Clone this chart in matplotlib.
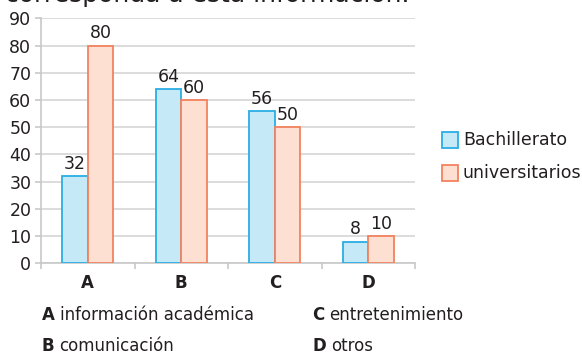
import matplotlib
matplotlib.use("Agg")
import matplotlib.pyplot as plt
import numpy as np
from matplotlib.patches import Rectangle

categories = ["A", "B", "C", "D"]
bachillerato = [32, 64, 56, 8]
universitarios = [80, 60, 50, 10]
series_names = ["Bachillerato", "universitarios"]
yticks = [0, 10, 20, 30, 40, 50, 60, 70, 80, 90]
notes = [("A", "información académica"), ("B", "comunicación"),
         ("C", "entretenimiento"), ("D", "otros")]

FONT = "DejaVu Sans"
blue_fill, blue_edge = "#c6e9f8", "#2aaee4"
orange_fill, orange_edge = "#fde0d1", "#f2825f"
grid_c = "#d6d6d6"
text_c = "#231f20"

fig = plt.figure(figsize=(5.82, 3.55), dpi=100)
ax = fig.add_axes([41/582, 1-263.3/355, (415-41)/582, (263.3-18.3)/355])

x = np.arange(len(categories))
w = 0.272
ax.bar(x - w/2, bachillerato, w, color=blue_fill, edgecolor=blue_edge, linewidth=1.3, zorder=3)
ax.bar(x + w/2, universitarios, w, color=orange_fill, edgecolor=orange_edge, linewidth=1.3, zorder=3)

for xi, v in zip(x - w/2, bachillerato):
    ax.text(xi, v + 1.2, str(v), ha="center", va="bottom", fontsize=12.5, family=FONT, color=text_c)
for xi, v in zip(x + w/2, universitarios):
    ax.text(xi, v + 1.2, str(v), ha="center", va="bottom", fontsize=12.5, family=FONT, color=text_c)

ax.set_xlim(-0.5, len(categories) - 0.5)
ax.set_ylim(0, 90)
ax.set_yticks(yticks)
ax.set_yticklabels([str(t) for t in yticks], fontsize=12.5, family=FONT, color=text_c)
ax.yaxis.grid(True, color=grid_c, linewidth=1.2, zorder=0)
ax.set_axisbelow(True)

ax.set_xticks(x)
ax.set_xticklabels(categories, fontsize=12, family=FONT, fontweight="bold", color=text_c)
ax.set_xticks(np.arange(-0.5, len(categories)), minor=True)
ax.tick_params(axis="x", which="major", length=0, pad=8)
ax.tick_params(axis="x", which="minor", length=4, color="#c8c8c8", width=1.2)
ax.tick_params(axis="y", length=4, color="#c8c8c8", width=1.2, pad=3)

for s in ["top", "right"]:
    ax.spines[s].set_visible(False)
for s in ["left", "bottom"]:
    ax.spines[s].set_color("#c8c8c8")
    ax.spines[s].set_linewidth(1.2)

# legend
for i, (name, fc, ec) in enumerate([(series_names[0], blue_fill, blue_edge),
                                     (series_names[1], orange_fill, orange_edge)]):
    ytop = 131.7 + i * 33.3
    fig.patches.append(Rectangle((442/582, 1 - (ytop + 16)/355), 16/582, 16/355,
                                 transform=fig.transFigure, facecolor=fc,
                                 edgecolor=ec, linewidth=1.3))
    fig.text(463/582, 1 - (ytop + 8.5)/355, name, ha="left", va="center",
             fontsize=12.5, family=FONT, color=text_c)

# category key below the chart (baseline positions in pixels)
positions = {"A": (42, 320), "B": (42, 351), "C": (312, 320), "D": (312, 351)}
fig.canvas.draw()
for letter, desc in notes:
    px, py = positions[letter]
    t = fig.text(px/582, 1 - py/355, letter, ha="left", va="baseline", fontsize=12,
                 family=FONT, fontweight="bold", color=text_c)
    bb = t.get_window_extent(renderer=fig.canvas.get_renderer())
    fig.text((bb.x1 + 5)/582, 1 - py/355, desc, ha="left", va="baseline",
             fontsize=12, family=FONT, color=text_c)

# heading line running off the top edge
fig.text(5/582, 1 - 2/355, "corresponda a esta información.", ha="left",
         va="baseline", fontsize=18, family=FONT, color=text_c)

fig.savefig("out.png", dpi=100)
